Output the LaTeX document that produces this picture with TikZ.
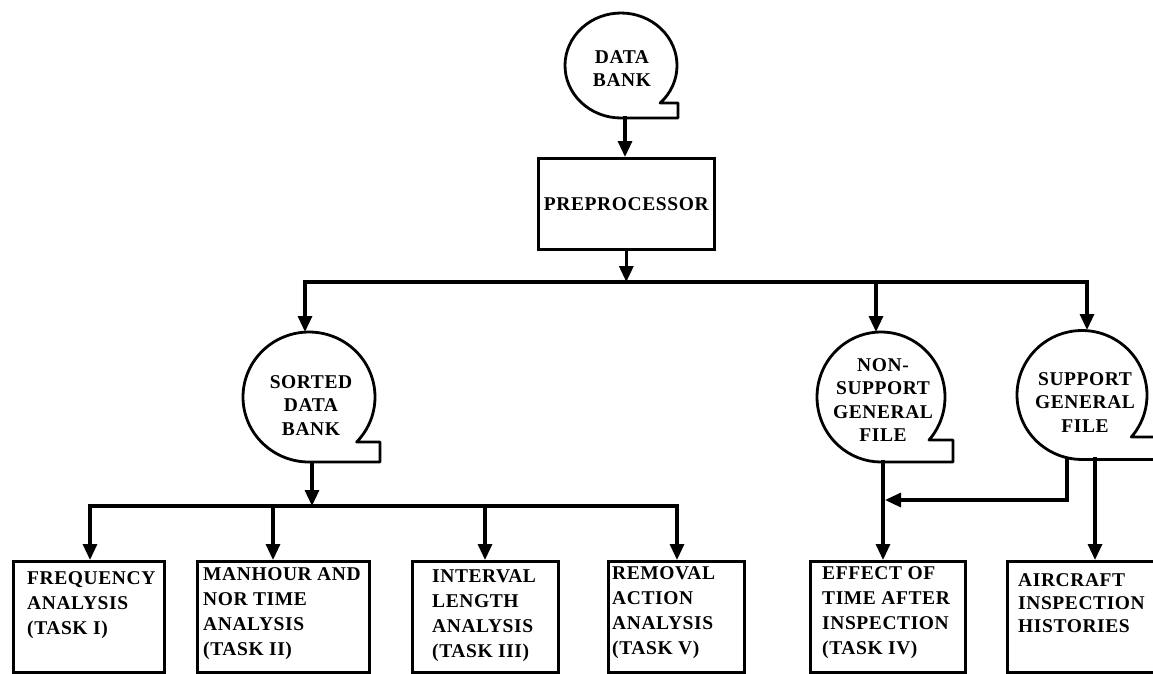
\documentclass[tikz,border=0pt]{standalone}
\usepackage{fontspec}
\setmainfont{Liberation Serif}[LetterSpace=3]
\usetikzlibrary{arrows.meta}
\tikzset{
  wire/.style={line width=3.2pt, line cap=rect},
  conn/.style={wire, -{Triangle[length=16pt,width=14pt]}},
  stor/.style={line width=2.8pt, line join=round},
  procbox/.style={draw, line width=2.6pt, inner sep=0pt, anchor=north west},
  lbl/.style={font=\fontsize{19.5}{25}\selectfont\bfseries, align=left, inner sep=0pt, anchor=north west},
  clbl/.style={font=\fontsize{19.5}{23.5}\selectfont\bfseries, align=center, inner sep=0pt, anchor=north},
}
\newcommand\storshape[6]{% cx cy rx ry nx ny
  \pgfmathsetmacro\sta{asin((#6-#2)/#4)}
  \pgfmathsetmacro\stx{#1+#3*cos(\sta)}
  \draw[stor] (#1,#2+#4) -- (#5,#2+#4) -- (#5,#6) -- (\stx,#6)
    arc[start angle=\sta, end angle=-270, x radius=#3, y radius=#4] -- cycle;
}
\begin{document}
\begin{tikzpicture}[x=1pt,y=-1pt]
\clip (0,0) rectangle (1153,673);
\fill[white] (0,0) rectangle (1153,673);

% storage shapes
\storshape{621}{65.5}{56}{52.5}{678}{103}
\storshape{309}{397}{66}{65}{380}{442}
\storshape{881}{397}{64}{65}{953}{440}
\storshape{1082}{395}{65}{64.5}{1160}{437}

\node[clbl] (db) at (622,50) {DATA\\BANK};
\node[clbl] (sdb) at (311,375) {SORTED\\DATA\\BANK};
\node[clbl] (ns) at (883,358) {NON-\\SUPPORT\\GENERAL\\FILE};
\node[clbl] (sp) at (1085,372) {SUPPORT\\GENERAL\\FILE};

% preprocessor
\node[procbox, minimum width=176pt, minimum height=91pt, font=\fontsize{19.5}{25}\selectfont\bfseries] (pre) at (537,157) {PREPROCESSOR};

% bottom boxes
\node[procbox, minimum width=151pt, minimum height=111pt] (b1) at (12,560) {};
\node[procbox, minimum width=172pt, minimum height=111pt] (b2) at (196,560) {};
\node[procbox, minimum width=146pt, minimum height=111pt] (b3) at (411,560) {};
\node[procbox, minimum width=136pt, minimum height=111pt] (b4) at (607,560) {};
\node[procbox, minimum width=155pt, minimum height=111pt] (b5) at (809,560) {};
\node[procbox, minimum width=170pt, minimum height=111pt] (b6) at (1006,560) {};

\node[lbl] (t1) at (27,571) {FREQUENCY\\ANALYSIS\\(TASK I)};
\node[lbl] (t2) at (203,567) {MANHOUR AND\\NOR TIME\\ANALYSIS\\(TASK II)};
\node[lbl] (t3) at (432,569) {INTERVAL\\LENGTH\\ANALYSIS\\(TASK III)};
\node[lbl] (t4) at (612,566) {REMOVAL\\ACTION\\ANALYSIS\\(TASK V)};
\node[lbl] (t5) at (822,566) {EFFECT OF\\TIME AFTER\\INSPECTION\\(TASK IV)};
\node[lbl, font=\fontsize{19.5}{23}\selectfont\bfseries] (t6) at (1018,573) {AIRCRAFT\\INSPECTION\\HISTORIES};

% coordinates
\coordinate (db-out) at (625,118);
\coordinate (busy) at (0,282);
\coordinate (sdb-in) at (305,332);
\coordinate (ns-in) at (876,332);
\coordinate (sp-in) at (1087,330);
\coordinate (sdb-out) at (312,463);
\coordinate (busb) at (0,506);
\coordinate (x1) at (90,0);
\coordinate (x2) at (273,0);
\coordinate (x3) at (485,0);
\coordinate (x4) at (677,0);
\coordinate (ns-out) at (883,462);
\coordinate (sp-out1) at (1067,459);
\coordinate (sp-out2) at (1095,459);
\coordinate (merge) at (885,500);

% connectors
\draw[conn] (db-out) -- (db-out |- pre.north);
\draw[conn] (pre.south) -- (pre.south |- busy);
\draw[conn] (sp-in |- busy) -- (sdb-in |- busy) -- (sdb-in);
\draw[conn] (ns-in |- busy) -- (ns-in);
\draw[conn] (sp-in |- busy) -- (sp-in);

\draw[conn] (sdb-out) -- (sdb-out |- busb);
\draw[conn] (x4 |- busb) -- (x1 |- busb) -- (x1 |- b1.north);
\draw[conn] (x2 |- busb) -- (x2 |- b2.north);
\draw[conn] (x3 |- busb) -- (x3 |- b3.north);
\draw[conn] (x4 |- busb) -- (x4 |- b4.north);

\draw[conn] (ns-out) -- (ns-out |- b5.north);
\draw[conn] (sp-out1) -- (sp-out1 |- merge) -- (merge);
\draw[conn] (sp-out2) -- (sp-out2 |- b6.north);
\end{tikzpicture}
\end{document}
